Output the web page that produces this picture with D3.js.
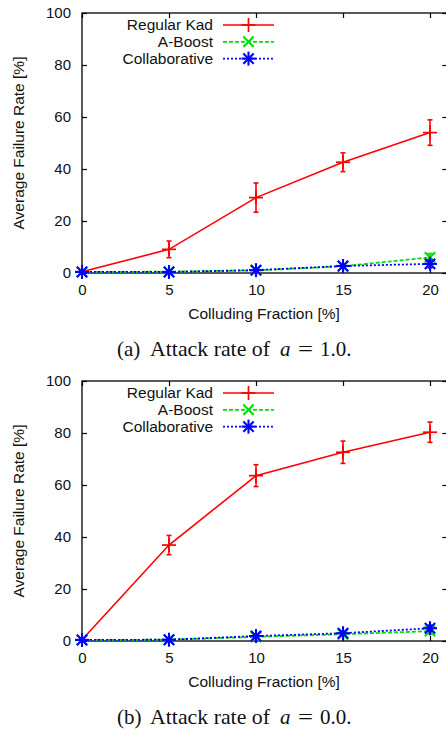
<!DOCTYPE html>
<html>
<head>
<meta charset="utf-8">
<script src="https://cdn.jsdelivr.net/npm/d3@7"></script>
<style>
  body { margin: 0; background: #fff; }
  svg { display: block; }
  .sans { font-family: "Liberation Sans", Arial, Helvetica, sans-serif; }
</style>
</head>
<body>
<div id="chart"></div>
<script>
// colluding fraction [%]
var fractions = [0, 5, 10, 15, 20];
var xTicks = [0, 5, 10, 15, 20];
var yTicks = [0, 20, 40, 60, 80, 100];
var seriesNames = ['Regular Kad', 'A-Boost', 'Collaborative'];

// panel (a): attack rate 1.0
var kadA = [0.5, 9.1, 29.0, 42.6, 54.0];
var kadErrA = [0.3, 3.2, 5.6, 3.6, 4.9];
var boostA = [0.4, 0.5, 1.0, 2.6, 6.0];
var boostErrA = [0.2, 0.2, 0.4, 0.6, 1.5];
var collabA = [0.4, 0.4, 1.1, 2.7, 3.5];
var collabErrA = [0.2, 0.2, 0.4, 0.6, 1.5];

// panel (b): attack rate 0.0
var kadB = [0.5, 36.9, 63.6, 72.6, 80.3];
var kadErrB = [0.3, 3.7, 4.2, 4.3, 3.9];
var boostB = [0.4, 0.5, 1.6, 2.6, 3.8];
var boostErrB = [0.2, 0.2, 0.4, 0.6, 1.0];
var collabB = [0.4, 0.5, 1.9, 3.0, 4.9];
var collabErrB = [0.2, 0.2, 0.4, 0.6, 1.2];

var W = 446, H = 729;
var svg = d3.select('#chart').append('svg')
	.attr('width', W)
	.attr('height', H);

var colors = ['#ff0000', '#00e000', '#0000ff'];
var dashes = [null, '4,2', '2,2'];
var markers = ['plus', 'cross', 'star'];

function marker(g, type, cx, cy, color) {
	var r = 7, d = 5.2;
	var segs = [];
	if (type == 'plus' || type == 'star') {
		segs.push([-r, 0, r, 0]);
		segs.push([0, -r, 0, r]);
	}
	if (type == 'cross' || type == 'star') {
		segs.push([-d, -d, d, d]);
		segs.push([-d, d, d, -d]);
	}
	segs.forEach(function(s) {
		g.append('line')
			.attr('x1', cx + s[0]).attr('y1', cy + s[1])
			.attr('x2', cx + s[2]).attr('y2', cy + s[3])
			.style('stroke', color)
			.style('stroke-width', type == 'plus' ? 1.7 : 2.1);
	});
}

function drawPanel(top, series, errors, caption) {
	var margins = {top: top, left: 82};
	var height = 260;

	var xscale = d3.scaleLinear().domain([0, 21]).range([margins.left, margins.left + 365.4]);
	var yscale = d3.scaleLinear().domain([0, 100]).range([top + height, top]);

	var g = svg.append('g').attr('class', 'sans');

	// frame
	g.append('rect')
		.attr('x', xscale(0)).attr('y', yscale(100))
		.attr('width', xscale(21) - xscale(0))
		.attr('height', yscale(0) - yscale(100))
		.style('fill', 'none').style('stroke', 'black').style('stroke-width', 1.3);

	var haxis = d3.axisBottom(xscale).tickValues(xTicks).tickSizeInner(-5).tickSizeOuter(0).tickPadding(11);
	var hguide = g.append('g').attr('transform', 'translate(0,' + yscale(0) + ')');
	haxis(hguide);
	var htop = g.append('g').attr('transform', 'translate(0,' + yscale(100) + ')');
	d3.axisTop(xscale).tickValues(xTicks).tickSizeInner(-5).tickSizeOuter(0).tickFormat('')(htop);

	var vaxis = d3.axisLeft(yscale).tickValues(yTicks).tickSizeInner(-5).tickSizeOuter(0).tickPadding(11);
	var vguide = g.append('g').attr('transform', 'translate(' + xscale(0) + ',0)');
	vaxis(vguide);
	var vright = g.append('g').attr('transform', 'translate(' + xscale(21) + ',0)');
	d3.axisRight(yscale).tickValues(yTicks).tickSizeInner(-5).tickSizeOuter(0).tickFormat('')(vright);

	g.selectAll('.domain').remove();
	g.selectAll('.tick line').style('stroke', 'black').style('stroke-width', 1.2);
	g.selectAll('.tick text')
		.style('font-family', '"Liberation Sans", Arial, sans-serif')
		.style('font-size', '15px')
		.style('fill', '#111');

	// axis titles
	g.append('text')
		.attr('x', 264).attr('y', top + height + 46)
		.attr('text-anchor', 'middle')
		.style('font-size', '15.5px').style('fill', '#111')
		.text('Colluding Fraction [%]');
	g.append('text')
		.attr('transform', 'translate(24,' + (top + height / 2) + ') rotate(-90)')
		.attr('text-anchor', 'middle')
		.style('font-size', '15.5px').style('fill', '#111')
		.text('Average Failure Rate [%]');

	// series
	series.forEach(function(vals, k) {
		var sg = g.append('g');
		var line = d3.line()
			.x(function(d, i) { return xscale(fractions[i]); })
			.y(function(d) { return yscale(d); });
		sg.append('path')
			.datum(vals)
			.attr('d', line)
			.style('fill', 'none')
			.style('stroke', colors[k])
			.style('stroke-width', k == 0 ? 1.6 : 1.8)
			.style('stroke-dasharray', dashes[k]);

		vals.forEach(function(v, i) {
			var x = xscale(fractions[i]);
			var e = errors[k][i];
			sg.append('line')
				.attr('x1', x).attr('x2', x)
				.attr('y1', yscale(v - e)).attr('y2', yscale(v + e))
				.style('stroke', colors[k]).style('stroke-width', 1.6);
			[v - e, v + e].forEach(function(b) {
				sg.append('line')
					.attr('x1', x - 2.5).attr('x2', x + 2.5)
					.attr('y1', yscale(b)).attr('y2', yscale(b))
					.style('stroke', colors[k]).style('stroke-width', 1.6);
			});
			marker(sg, markers[k], x, yscale(v), colors[k]);
		});
	});

	// legend
	seriesNames.forEach(function(name, k) {
		var ly = top + 12 + k * 16.8;
		g.append('text')
			.attr('x', 213).attr('y', ly)
			.attr('dy', '0.35em')
			.attr('text-anchor', 'end')
			.style('font-size', '15.5px').style('fill', '#111')
			.text(name);
		g.append('line')
			.attr('x1', 223).attr('x2', 274)
			.attr('y1', ly).attr('y2', ly)
			.style('stroke', colors[k])
			.style('stroke-width', k == 0 ? 1.6 : 1.8)
			.style('stroke-dasharray', dashes[k]);
		marker(g, markers[k], 248.5, ly, colors[k]);
	});

	// caption, pieces placed like the LaTeX subcaption
	var cy = top + height + 83;
	var capStyle = function(t) {
		return t.attr('y', cy)
			.style('font-family', '"Liberation Serif", "Times New Roman", serif')
			.style('font-size', '21px')
			.style('fill', '#111');
	};
	capStyle(svg.append('text')).attr('x', 117).text('(' + caption[0] + ')');
	capStyle(svg.append('text')).attr('x', 150).attr('textLength', 120).attr('lengthAdjust', 'spacingAndGlyphs').text('Attack rate of');
	capStyle(svg.append('text')).attr('x', 280).style('font-style', 'italic').text('a');
	capStyle(svg.append('text')).attr('x', 298).attr('textLength', 15).attr('lengthAdjust', 'spacingAndGlyphs').text('=');
	capStyle(svg.append('text')).attr('x', 320).text(caption[1] + '.');
}

drawPanel(13, [kadA, boostA, collabA], [kadErrA, boostErrA, collabErrA], ['a', '1.0']);
drawPanel(381, [kadB, boostB, collabB], [kadErrB, boostErrB, collabErrB], ['b', '0.0']);
</script>
</body>
</html>
